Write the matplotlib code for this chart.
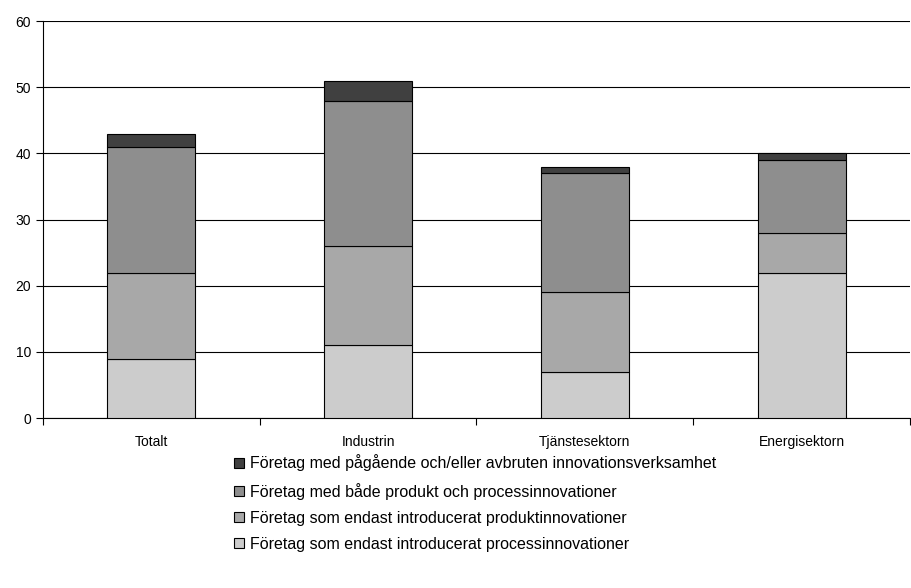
import matplotlib
matplotlib.use("Agg")
import matplotlib.pyplot as plt
import numpy as np

plt.rcParams["font.family"] = ["Liberation Sans", "DejaVu Sans"]

categories = ["Totalt", "Industrin", "Tjänstesektorn", "Energisektorn"]
process_only = [9, 11, 7, 22]
product_only = [13, 15, 12, 6]
both = [19, 22, 18, 11]
ongoing = [2, 3, 1, 1]

series = [
    (process_only, "#cccccc", "Företag som endast introducerat processinnovationer"),
    (product_only, "#a8a8a8", "Företag som endast introducerat produktinnovationer"),
    (both, "#8e8e8e", "Företag med både produkt och processinnovationer"),
    (ongoing, "#404040", "Företag med pågående och/eller avbruten innovationsverksamhet"),
]

fig = plt.figure(figsize=(9.11, 5.88), dpi=100)
ax = fig.add_axes([0.047, 0.289, 0.952, 0.675])

x = np.arange(len(categories))
bottom = np.zeros(len(categories))
handles = []
for vals, color, label in series:
    b = ax.bar(x, vals, 0.405, bottom=bottom, color=color, edgecolor="black",
               linewidth=0.8, label=label, zorder=3)
    handles.append(b)
    bottom += np.array(vals)

ax.set_xlim(-0.5, len(categories) - 0.5)
ax.set_ylim(0, 60)
ax.set_yticks(range(0, 61, 10))
ax.yaxis.grid(True, color="black", linewidth=0.8, zorder=0)
ax.set_xticks(x)
ax.set_xticklabels(categories)
ax.set_xticks(np.arange(-0.5, len(categories)), minor=True)
ax.tick_params(axis="x", which="major", length=0, pad=12, labelsize=10)
ax.tick_params(axis="x", which="minor", length=5, width=0.8, direction="out")
ax.tick_params(axis="y", length=5, width=0.8, direction="out", labelsize=10)
for s in ["top", "right"]:
    ax.spines[s].set_visible(False)
ax.spines["left"].set_linewidth(0.8)
ax.spines["bottom"].set_linewidth(0.8)

fig.legend(handles[::-1], [s[2] for s in series][::-1], loc="upper left",
           bbox_to_anchor=(0.25, 0.238), frameon=False, fontsize=11.5,
           handlelength=0.6, handleheight=0.6, handletextpad=0.4,
           labelspacing=0.7, borderaxespad=0)

fig.savefig("out.png", dpi=100)
